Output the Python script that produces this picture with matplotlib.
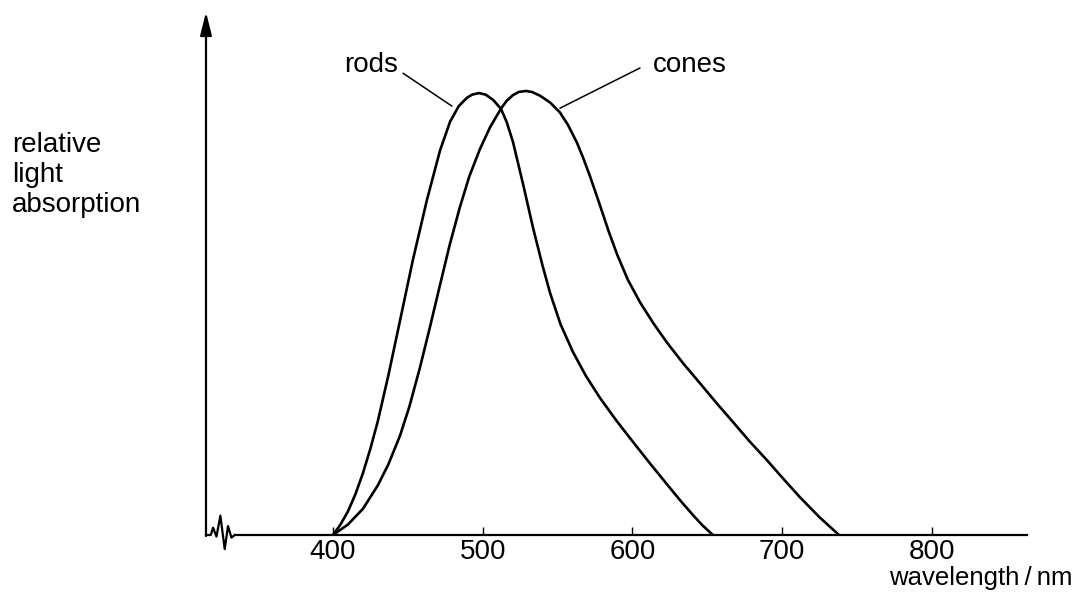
import numpy as np
import matplotlib
matplotlib.use("Agg")
import matplotlib.pyplot as plt

plt.rcParams['font.family'] = ['Liberation Sans', 'DejaVu Sans']

# ===================== Datos =====================

rods_nm = [400, 405, 410, 415, 420, 425, 430, 437, 444.8, 453.4, 462.8, 471.5, 478.2,
           484, 489.5, 493, 497.5, 502, 507, 512.2, 516, 520.2, 526.9, 533.6, 540,
           545, 552, 560.3, 569, 578.4, 589, 600.4, 612, 623.1, 632, 640.5, 647, 653.8]
rods_val = [0, 0.02, 0.045, 0.078, 0.118, 0.165, 0.218, 0.305, 0.41, 0.526, 0.641, 0.735, 0.79,
            0.82, 0.836, 0.842, 0.845, 0.842, 0.832, 0.815, 0.79, 0.752, 0.672, 0.588, 0.515,
            0.463, 0.403, 0.35, 0.304, 0.262, 0.22, 0.178, 0.136, 0.097, 0.066, 0.038, 0.018, 0]

cones_nm = [400, 410, 420, 430, 437, 444.8, 451, 458.1, 465, 471.5, 478,
            484.8, 491, 498.2, 505, 512.2, 516, 520.2, 524, 528.9, 533, 538.3, 545,
            551.6, 557, 563, 567, 571.7, 578.4, 584, 590, 597, 605.1, 614, 623.1, 634,
            645.2, 656, 667.2, 678, 689.9, 701, 712, 725, 738]
cones_val = [0, 0.02, 0.05, 0.095, 0.135, 0.19, 0.245, 0.32, 0.4,
             0.478, 0.555, 0.627, 0.685, 0.738, 0.78, 0.815, 0.83, 0.841, 0.847, 0.849, 0.847,
             0.84, 0.827, 0.808, 0.784, 0.75, 0.722, 0.686, 0.63, 0.582, 0.535, 0.488,
             0.445, 0.405, 0.368, 0.328, 0.29, 0.253, 0.216, 0.18, 0.143, 0.107, 0.072,
             0.034, 0]

ticks = [400, 500, 600, 700, 800]

# ===================== Figura =====================

fig = plt.figure(figsize=(10.82, 5.97), dpi=100)
ax = fig.add_axes([206 / 1082, 62 / 597, 821 / 1082, 523 / 597])
x0, x1 = 315.2, 863.6
ax.set_xlim(x0, x1)
ax.set_ylim(0, 1)
for s in ax.spines.values():
    s.set_visible(False)

lw = 1.9
for xs, ys in [(rods_nm, rods_val), (cones_nm, cones_val)]:
    ax.plot(xs, ys, color='black', lw=lw, solid_capstyle='round',
            solid_joinstyle='round', zorder=3)

# eje x con corte (zigzag)
brk_x = [x0, 318.4, 319.9, 322.2, 324.8, 327.7, 329.9, 332.2, 334.4]
brk_y = [0, 0, 0.014, -0.003, 0.037, -0.027, 0.017, -0.005, 0]
ax.plot(brk_x, brk_y, color='black', lw=1.6, clip_on=False)
ax.plot([334.4, x1], [0, 0], color='black', lw=1.6, clip_on=False)

# eje y con flecha
ax.annotate('', xy=(x0, 1.0), xytext=(x0, -0.002),
            arrowprops=dict(arrowstyle='-|>,head_length=1.4,head_width=0.35',
                            color='black', lw=1.6, shrinkA=0, shrinkB=0),
            annotation_clip=False)

ax.set_yticks([])
ax.set_xticks(ticks)
ax.set_xticklabels([str(t) for t in ticks])
ax.tick_params(axis='x', direction='in', length=6, width=1.0, pad=3, labelsize=20)

# etiquetas de curvas
ax.text(443.7, 0.898, 'rods', ha='right', va='center', fontsize=20)
ax.annotate('', xy=(479.5, 0.82), xytext=(446.8, 0.883),
            arrowprops=dict(arrowstyle='-', color='black', lw=1.1, shrinkA=0, shrinkB=0))
ax.text(613.4, 0.898, 'cones', ha='left', va='center', fontsize=20)
ax.annotate('', xy=(551.6, 0.816), xytext=(605.1, 0.893),
            arrowprops=dict(arrowstyle='-', color='black', lw=1.1, shrinkA=0, shrinkB=0))

fig.text(12 / 1082, (597 - 175) / 597, 'relative\nlight\nabsorption',
         ha='left', va='center', fontsize=20, linespacing=1.18)
fig.text(1073 / 1082, (597 - 578) / 597, 'wavelength\u2009/\u2009nm',
         ha='right', va='center', fontsize=18.5)

fig.savefig('out.png', dpi=100)
